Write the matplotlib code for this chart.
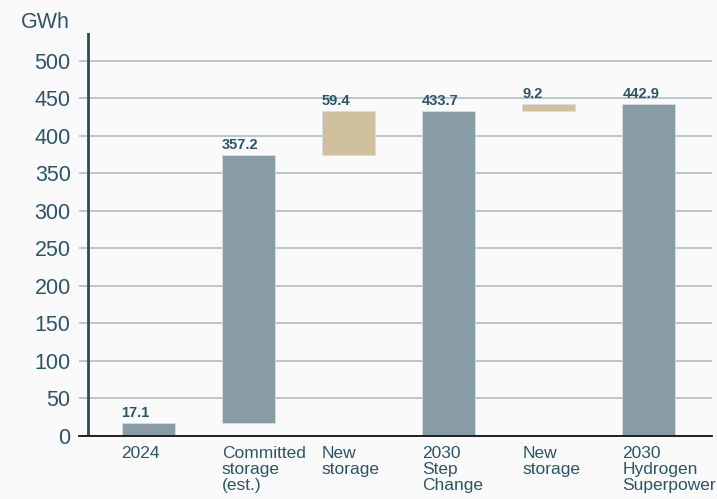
import matplotlib.pyplot as plt
from matplotlib.transforms import blended_transform_factory

plt.rcParams['font.family'] = ['Liberation Sans', 'DejaVu Sans']

# storage build-up, GWh
labels = ["2024", "Committed\nstorage\n(est.)", "New\nstorage",
          "2030\nStep\nChange", "New\nstorage", "2030\nHydrogen\nSuperpower"]
values = [17.1, 357.2, 59.4, 433.7, 9.2, 442.9]
is_total = [True, False, False, True, False, True]
is_new = [False, False, True, False, True, False]
y_ticks = [0, 50, 100, 150, 200, 250, 300, 350, 400, 450, 500]

TEXT = "#2b5567"
GREY = "#879ca5"
TAN = "#d1c09d"
GRID = "#aebfc6"
BG = "#fafafa"
BAR_W = 0.53

fig = plt.figure(figsize=(7.17, 4.99), dpi=100, facecolor=BG)
ax = fig.add_axes([79 / 717, 63 / 499, 633 / 717, 403 / 499], facecolor=BG)

# running total for the floating bars
bottoms = []
running = 0.0
for v, tot in zip(values, is_total):
    if tot:
        bottoms.append(0.0)
        running = v
    else:
        bottoms.append(running)
        running += v

xs = list(range(len(values)))
colors = [TAN if n else GREY for n in is_new]
ax.bar(xs, values, bottom=bottoms, width=BAR_W, color=colors,
       edgecolor="#d8dfe2", linewidth=0.6, zorder=3)

for x, v, b in zip(xs, values, bottoms):
    ax.text(x - BAR_W / 2, b + v + 4, "{:.1f}".format(v), ha="left", va="bottom",
            fontsize=10.5, fontweight="bold", color=TEXT, zorder=4)

trans = blended_transform_factory(ax.transData, ax.transAxes)
for x, lab in zip(xs, labels):
    ax.text(x - BAR_W / 2, -0.025, lab, transform=trans, ha="left", va="top",
            fontsize=12.5, color=TEXT, linespacing=1.1, clip_on=False)

ax.set_xlim(-0.69, 5.63)
ax.set_ylim(0, 537)
ax.set_xticks([])
ax.set_yticks(y_ticks)
ax.set_yticklabels([str(t) for t in y_ticks], fontsize=15.5, color=TEXT)
ax.tick_params(axis="y", length=0, pad=6)
ax.grid(axis="y", color=GRID, linewidth=1.2, zorder=0)
ax.set_axisbelow(True)

for side in ["top", "right", "left"]:
    ax.spines[side].set_visible(False)
ax.spines["bottom"].set_color("#111111")
ax.spines["bottom"].set_linewidth(1.3)
ax.spines["bottom"].set_zorder(5)

ax.axvline(-0.6, color="#22505f", linewidth=2, zorder=5)
ax.text(-0.014, 1.027, "GWh", transform=ax.transAxes, ha="right", va="center",
        fontsize=15.5, color=TEXT)

fig.savefig("out.png", dpi=100, facecolor=BG)
